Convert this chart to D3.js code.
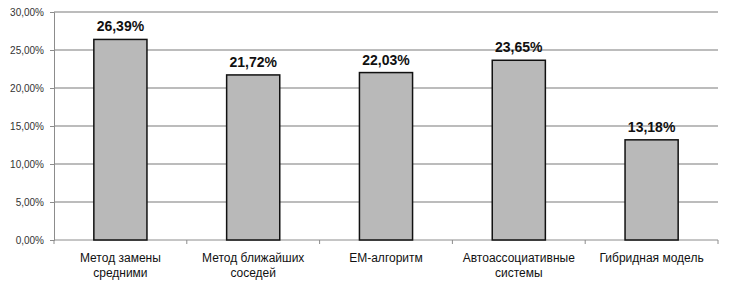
<!DOCTYPE html>
<html>
<head>
<meta charset="utf-8">
<script src="https://cdn.jsdelivr.net/npm/d3@7"></script>
<style>
  body { margin: 0; background: #fff; }
  svg { display: block; font-family: "Liberation Sans", Arial, sans-serif; }
</style>
</head>
<body>
<svg id="chart" width="740" height="290"></svg>
<script>
const categories = [
    ["Метод замены", "средними"],
    ["Метод ближайших", "соседей"],
    ["ЕМ-алгоритм"],
    ["Автоассоциативные", "системы"],
    ["Гибридная модель"]
];
const values = [26.39, 21.72, 22.03, 23.65, 13.18];
const yTicks = [0, 5, 10, 15, 20, 25, 30];

const width = 740;
const height = 290;
const margin = { top: 12, right: 22, bottom: 50, left: 54 };

const svg = d3.select("#chart");
const fmt = v => v.toFixed(2).replace(".", ",") + "%";

const xScale = d3.scaleBand()
    .domain(d3.range(values.length))
    .range([margin.left, width - margin.right])
    .paddingInner(0.6)
    .paddingOuter(0.3);

const yScale = d3.scaleLinear()
    .domain([0, 30])
    .range([height - margin.bottom, margin.top]);

// gridlines
svg.append("g")
    .selectAll("line")
    .data(yTicks.slice(1))
    .join("line")
    .attr("x1", margin.left)
    .attr("x2", width - margin.right)
    .attr("y1", d => yScale(d))
    .attr("y2", d => yScale(d))
    .attr("stroke", "#a6a6a6")
    .attr("stroke-width", 1.3);

// y axis
const yAxis = svg.append("g")
    .attr("transform", `translate(${margin.left}, 0)`)
    .call(d3.axisLeft(yScale).tickValues(yTicks).tickSize(4).tickPadding(6).tickFormat(fmt));
yAxis.select(".domain").attr("stroke", "#8c8c8c");
yAxis.selectAll(".tick line").attr("stroke", "#8c8c8c");
yAxis.selectAll("text").attr("font-size", 10).attr("fill", "#333").attr("font-family", "Liberation Sans, Arial, sans-serif");

// x axis line with ticks at category boundaries
const step = xScale.step();
const bounds = d3.range(values.length + 1).map(i => margin.left + i * step);
svg.append("line")
    .attr("x1", margin.left).attr("x2", width - margin.right)
    .attr("y1", yScale(0)).attr("y2", yScale(0))
    .attr("stroke", "#8c8c8c").attr("stroke-width", 1);
svg.append("g")
    .selectAll("line")
    .data(bounds)
    .join("line")
    .attr("x1", d => d).attr("x2", d => d)
    .attr("y1", yScale(0)).attr("y2", yScale(0) + 4)
    .attr("stroke", "#8c8c8c");

// bars
svg.append("g")
    .selectAll("rect")
    .data(values)
    .join("rect")
    .attr("x", (d, i) => xScale(i))
    .attr("y", d => yScale(d))
    .attr("width", xScale.bandwidth())
    .attr("height", d => yScale(0) - yScale(d))
    .attr("fill", "#b9b9b9")
    .attr("stroke", "#111")
    .attr("stroke-width", 1.5);

// value labels
svg.append("g")
    .selectAll("text")
    .data(values)
    .join("text")
    .attr("x", (d, i) => xScale(i) + xScale.bandwidth() / 2)
    .attr("y", d => yScale(d) - 8)
    .attr("text-anchor", "middle")
    .attr("font-size", 14)
    .attr("font-weight", "bold")
    .attr("fill", "#111")
    .text(d => fmt(d));

// category labels
const catLabels = svg.append("g")
    .selectAll("text")
    .data(categories)
    .join("text")
    .attr("x", (d, i) => xScale(i) + xScale.bandwidth() / 2)
    .attr("y", yScale(0) + 22)
    .attr("text-anchor", "middle")
    .attr("font-size", 12)
    .attr("fill", "#111");
catLabels.selectAll("tspan")
    .data(d => d)
    .join("tspan")
    .attr("x", function () { return d3.select(this.parentNode).attr("x"); })
    .attr("dy", (d, i) => i === 0 ? 0 : 15)
    .text(d => d);
</script>
</body>
</html>
